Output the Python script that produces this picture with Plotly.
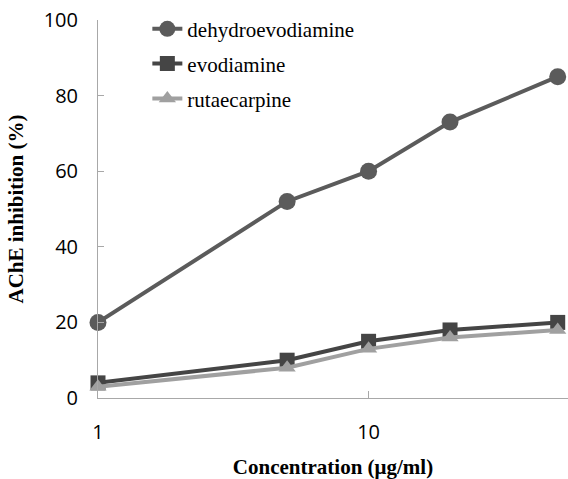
import plotly.graph_objects as go

concentration = [1, 5, 10, 20, 50]
dehydroevodiamine = [20, 52, 60, 73, 85]
evodiamine = [4, 10, 15, 18, 20]
rutaecarpine = [3, 8, 13, 16, 18]
x_tick_vals = [1, 10]
x_tick_text = ["1", "10"]
y_tick_vals = [0, 20, 40, 60, 80, 100]

series = [
    ("dehydroevodiamine", dehydroevodiamine, "#5b5b5b", "circle", 17),
    ("evodiamine", evodiamine, "#454545", "square", 15),
    ("rutaecarpine", rutaecarpine, "#a0a0a0", "triangle-up", 15),
]

fig = go.Figure()
for i, (name, vals, color, sym, size) in enumerate(series):
    fig.add_trace(go.Scatter(
        x=concentration, y=vals, name=name, mode="lines+markers",
        line=dict(color=color, width=4),
        marker=dict(symbol=sym, size=size, color=color),
        cliponaxis=False, legendgroup=f"g{i}",
    ))

fig.update_layout(
    width=568, height=479,
    margin=dict(l=98, r=0, t=20, b=81),
    paper_bgcolor="white", plot_bgcolor="white",
    showlegend=True,
    legend=dict(
        x=0.105, y=1.03, xanchor="left", yanchor="top",
        font=dict(family="Liberation Serif", size=21, color="black"),
        bgcolor="rgba(0,0,0,0)", tracegroupgap=4.5,
    ),
    xaxis=dict(
        type="log", range=[0, 1.737], automargin=False,
        tickvals=x_tick_vals, ticktext=x_tick_text,
        showgrid=False, zeroline=False,
        showline=True, linecolor="#a8a8a8", linewidth=1,
        ticks="inside", ticklen=7, tickcolor="#a8a8a8",
        tickfont=dict(family="Open Sans", size=20, color="black"),
        ticklabelstandoff=16,
        title=dict(text="Concentration (μg/ml)", standoff=21,
                   font=dict(family="Liberation Serif", size=21, color="black", weight="bold")),
    ),
    yaxis=dict(
        range=[0, 100], tickvals=y_tick_vals, automargin=False,
        showgrid=False, zeroline=False,
        showline=True, linecolor="#a8a8a8", linewidth=1,
        ticks="inside", ticklen=6, tickcolor="#a8a8a8",
        tickfont=dict(family="Open Sans", size=20, color="black"),
        ticklabelstandoff=15,
        title=dict(text="AChE inhibition (%)", standoff=14,
                   font=dict(family="Liberation Serif", size=21, color="black", weight="bold")),
    ),
)

fig.write_html("out.html", config={"displayModeBar": False},
               post_script="document.body.style.margin='0';")
